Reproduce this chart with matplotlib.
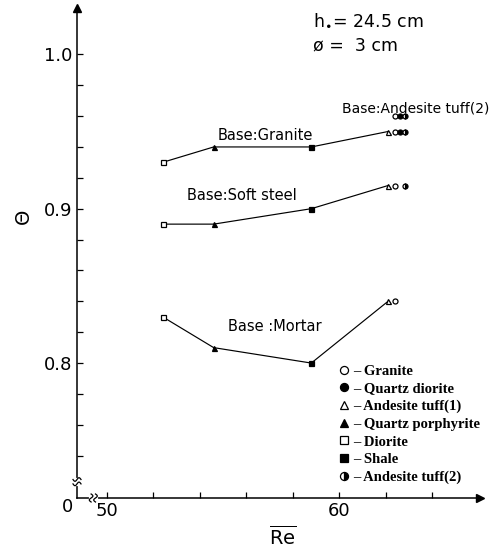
import numpy as np
import matplotlib.pyplot as plt
from matplotlib.lines import Line2D

# Rock samples (x position = mean Reynolds number)
rocks = ['Diorite', 'Quartz porphyrite', 'Shale', 'Andesite tuff(1)',
         'Granite', 'Quartz diorite', 'Andesite tuff(2)']
re_bar = [52.4, 54.6, 58.8, 62.1, 62.4, 62.6, 62.85]

# Theta for each base material (nan = not measured)
nan = np.nan
theta_granite = [0.93, 0.94, 0.94, 0.95, 0.95, 0.95, 0.95]
theta_steel = [0.89, 0.89, 0.90, 0.915, 0.915, nan, 0.915]
theta_mortar = [0.83, 0.81, 0.80, 0.84, 0.84, nan, nan]
theta_tuff2 = [nan, nan, nan, nan, 0.96, 0.96, 0.96]

# marker, fill style per rock
styles = {
    'Granite': ('o', 'none'),
    'Quartz diorite': ('o', 'full'),
    'Andesite tuff(1)': ('^', 'none'),
    'Quartz porphyrite': ('^', 'full'),
    'Diorite': ('s', 'none'),
    'Shale': ('s', 'full'),
    'Andesite tuff(2)': ('o', 'right'),
}
legend_order = ['Granite', 'Quartz diorite', 'Andesite tuff(1)',
                'Quartz porphyrite', 'Diorite', 'Shale', 'Andesite tuff(2)']


def marker_kw(name, size):
    m, fs = styles[name]
    kw = dict(marker=m, markersize=size, color='black', markeredgewidth=0.9,
              linestyle='none')
    if fs == 'none':
        kw['markerfacecolor'] = 'white'
    elif fs == 'right':
        kw['fillstyle'] = 'right'
        kw['markerfacecoloralt'] = 'white'
    return kw


fig = plt.figure(figsize=(5.03, 5.53), dpi=100)
ax = fig.add_axes([0.153, 0.0995, 0.801, 0.886])
ax.set_xlim(48.72, 66.05)
ax.set_ylim(0.7126, 1.030)

for theta in [theta_granite, theta_steel, theta_mortar, theta_tuff2]:
    # connecting line through the first four samples
    xs = [x for x, t in zip(re_bar[:4], theta[:4]) if not np.isnan(t)]
    ts = [t for t in theta[:4] if not np.isnan(t)]
    if len(xs) > 1:
        ax.plot(xs, ts, color='black', lw=0.85, zorder=2)
    for name, x, t in zip(rocks, re_bar, theta):
        if not np.isnan(t):
            ax.plot([x], [t], zorder=3, **marker_kw(name, 3.6))

# labels on the curves
txt = dict(fontsize=10.5, va='center', ha='left')
ax.text(54.79, 0.9476, 'Base:Granite', **txt)
ax.text(53.45, 0.9087, 'Base:Soft steel', **txt)
ax.text(55.2, 0.824, 'Base :Mortar', **txt)
ax.text(60.12, 0.965, 'Base:Andesite tuff(2)', fontsize=10, va='center', ha='left')
ax.text(58.87, 1.022, r'h$_{\bullet}$= 24.5 cm', fontsize=12.5, va='center', ha='left')
ax.text(58.87, 1.006, 'ø =  3 cm', fontsize=12.5, va='center', ha='left')

# axes look: only left and bottom with arrows
for s in ['top', 'right']:
    ax.spines[s].set_visible(False)
for s in ['left', 'bottom']:
    ax.spines[s].set_linewidth(1.1)
ax.plot(1, 0, '>', color='black', markersize=6, transform=ax.transAxes, clip_on=False)
ax.plot(0, 1, '^', color='black', markersize=6, transform=ax.transAxes, clip_on=False)

ax.set_xticks([50, 60])
ax.set_xticks(np.arange(52, 66, 2), minor=True)
ax.set_yticks([0.8, 0.9, 1.0])
ax.set_yticks(np.arange(0.74, 1.0, 0.02), minor=True)
ax.set_yticklabels(['0.8', '0.9', '1.0'])
ax.tick_params(which='both', direction='in', length=4, width=0.9, labelsize=13)
ax.tick_params(axis='x', pad=3)
ax.text(-0.01, 0, '0', transform=ax.transAxes, fontsize=13, ha='right', va='top')

ax.set_xlabel(r'$\overline{\mathrm{Re}}$', fontsize=14, labelpad=2)
ax.xaxis.set_label_coords(0.51, -0.055)
ax.set_ylabel('Θ', fontsize=14, rotation=90)
ax.yaxis.set_label_coords(-0.11, 0.575)

# axis break marks (drawn in pixels)
def squiggle(cx, cy, vertical):
    t = np.linspace(-1, 1, 20)
    for off in (-2.2, 2.2):
        a = t * 4
        b = np.sin(t * np.pi) * 1.8 + off
        if vertical:
            fig.add_artist(Line2D(cx + a, cy + b, color='black', lw=0.9, transform=None))
        else:
            fig.add_artist(Line2D(cx + b, cy + a, color='black', lw=0.9, transform=None))

# white gaps in the axis lines at the breaks
fig.add_artist(Line2D([77, 77], [553 - 479.5, 553 - 484], color='white', lw=3, transform=None))
fig.add_artist(Line2D([91, 95.5], [55, 55], color='white', lw=3, transform=None))
squiggle(77, 553 - 481.7, True)
squiggle(93.3, 553 - 498, False)

# legend
handles = [Line2D([], [], **marker_kw(n, 5.8)) for n in legend_order]
labels = ['– ' + n for n in legend_order]
ax.legend(handles, labels, loc='upper left', bbox_to_anchor=(0.652, 0.272),
          frameon=False, handlelength=0.6, handletextpad=0.3, labelspacing=0.3,
          borderpad=0, borderaxespad=0,
          prop={'family': 'Liberation Serif', 'weight': 'bold', 'size': 10.5})

fig.savefig('out.png', dpi=100)
